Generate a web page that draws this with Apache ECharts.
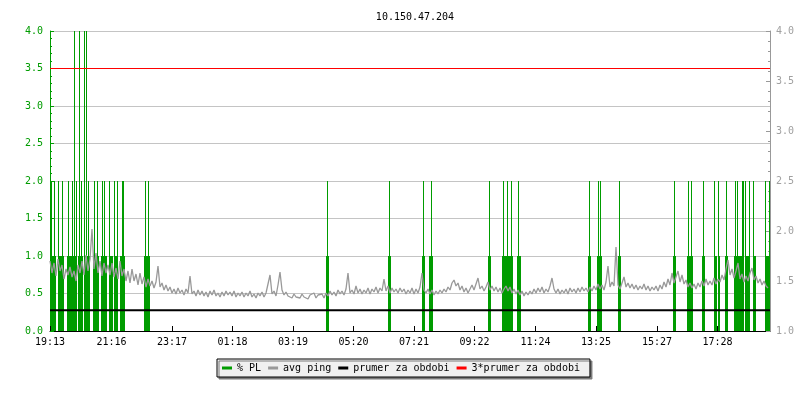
<!DOCTYPE html>
<html>
<head>
<meta charset="utf-8">
<script src="https://cdn.jsdelivr.net/npm/echarts@6/dist/echarts.min.js"></script>
<style>
html,body{margin:0;padding:0;background:#fff;}
#chart{width:800px;height:400px;}
</style>
</head>
<body>
<div id="chart"></div>
<script>
// ---- DATA ----
const chartTitle = '10.150.47.204';
const timeLabels = ['19:13','21:16','23:17','01:18','03:19','05:20','07:21','09:22','11:24','13:25','15:27','17:28'];
const startTime = '19:13';
const spanMinutes = 1440;
const leftTicks = [0, 4, 0.5];      // min, max, step (% PL)
const rightTicks = [1, 4, 0.5];     // min, max, step (ping)

// avg ping, one sample every 4 minutes from 19:13
const pingStep = 4;
const pingValues = [
 1.70,1.58,1.68,1.55,1.72,1.60,1.66,1.52,1.62,1.56,1.64,1.54,1.60,1.50,1.66,1.58,1.70,1.56,1.76,1.60,1.72,2.02,1.62,1.78,1.58,1.70,1.55,1.68,1.58,1.66,
 1.56,1.68,1.54,1.63,1.52,1.70,1.55,1.62,1.50,1.60,1.48,1.62,1.50,1.57,1.46,1.58,1.47,1.54,1.44,1.52,1.45,1.50,1.43,1.49,1.65,1.44,1.48,1.41,1.46,1.40,
 1.44,1.38,1.42,1.37,1.43,1.38,1.41,1.36,1.42,1.38,1.55,1.37,1.40,1.35,1.41,1.36,1.40,1.35,1.39,1.34,1.40,1.36,1.41,1.35,1.38,1.34,1.39,1.35,1.40,1.36,
 1.39,1.35,1.40,1.34,1.38,1.35,1.39,1.34,1.38,1.35,1.40,1.34,1.37,1.33,1.38,1.35,1.39,1.34,1.38,1.36,1.56,1.37,1.40,1.35,1.46,1.59,1.41,1.36,1.39,1.35,
 1.37,1.33,1.37,1.34,1.36,1.33,1.37,1.34,1.36,1.32,1.36,1.34,1.38,1.33,1.36,1.34,1.37,1.33,1.38,1.35,1.40,1.36,1.39,1.35,1.41,1.37,1.40,1.36,1.42,1.58,
 1.38,1.41,1.37,1.45,1.38,1.42,1.37,1.41,1.38,1.43,1.37,1.42,1.39,1.44,1.38,1.43,1.40,1.52,1.40,1.45,1.38,1.43,1.39,1.42,1.38,1.43,1.39,1.42,1.37,1.41,
 1.38,1.43,1.37,1.42,1.38,1.44,1.58,1.41,1.38,1.42,1.37,1.41,1.36,1.40,1.37,1.41,1.38,1.42,1.39,1.44,1.41,1.48,1.51,1.45,1.48,1.41,1.45,1.39,1.43,1.38,
 1.42,1.46,1.41,1.47,1.53,1.42,1.45,1.40,1.44,1.49,1.41,1.45,1.40,1.44,1.39,1.43,1.38,1.42,1.45,1.40,1.44,1.38,1.42,1.37,1.41,1.36,1.40,1.35,1.39,1.36,
 1.40,1.37,1.42,1.38,1.43,1.39,1.44,1.38,1.42,1.39,1.45,1.53,1.42,1.38,1.42,1.37,1.41,1.38,1.42,1.37,1.43,1.39,1.42,1.38,1.43,1.39,1.44,1.40,1.43,1.39,
 1.44,1.40,1.45,1.41,1.47,1.42,1.46,1.41,1.49,1.65,1.44,1.49,1.45,1.84,1.46,1.42,1.48,1.54,1.44,1.48,1.43,1.47,1.42,1.46,1.41,1.45,1.42,1.47,1.41,1.45,
 1.40,1.44,1.41,1.45,1.40,1.46,1.42,1.49,1.44,1.52,1.46,1.58,1.48,1.54,1.60,1.49,1.56,1.47,1.51,1.44,1.48,1.43,1.47,1.42,1.48,1.44,1.50,1.45,1.52,1.46,
 1.50,1.46,1.53,1.47,1.52,1.49,1.56,1.51,1.62,1.71,1.56,1.62,1.53,1.60,1.68,1.52,1.57,1.49,1.55,1.50,1.58,1.63,1.51,1.55,1.48,1.52,1.46,1.50,1.45,1.43
];

// % PL samples: [minutes after 19:13, value], 2-minute samples, only non-zero ones
const plSampleMinutes = 2;
const plSamples = [
 [2,2],[4,1],[6,1],[8,2],[10,1],
 [16,2],[18,1],[20,1],[22,1],[24,2],[26,1],
 [34,1],[36,2],[38,1],[40,1],
 [42,1],[44,2],[46,1],[48,4],[50,1],[52,2],
 [56,1],[58,4],[60,1],[62,2],[64,1],
 [68,4],[70,1],[72,4],[74,1],[76,2],[78,1],
 [86,1],[88,2],[90,1],[92,1],[94,2],[96,1],
 [102,1],[104,2],[106,1],[108,2],[110,1],[112,1],
 [118,2],[120,1],[122,1],[124,1],
 [128,2],[130,1],[132,1],[134,2],
 [140,1],[142,1],[144,2],[146,2],[148,1],
 [188,1],[190,2],[192,1],[194,1],[196,2],[198,1],
 [552,1],[554,2],[556,1],
 [676,1],[678,2],[680,1],
 [744,1],[746,2],[748,1],
 [758,1],[760,1],[762,2],[764,1],
 [876,1],[878,2],[880,1],
 [904,1],[906,2],[908,1],[910,1],[912,1],[914,2],[916,1],[918,1],[920,1],[922,2],[924,1],
 [934,1],[936,2],[938,1],[940,1],
 [1076,1],[1078,2],[1080,1],
 [1094,1],[1096,2],[1098,1],[1100,2],[1102,1],
 [1136,1],[1138,2],[1140,1],
 [1246,1],[1248,2],[1250,1],
 [1274,1],[1276,2],[1278,1],
 [1280,1],[1282,2],[1284,1],
 [1304,1],[1306,2],[1308,1],
 [1328,2],[1330,1],[1332,1],
 [1336,2],[1338,1],
 [1350,1],[1352,2],[1354,1],
 [1368,1],[1370,2],[1372,1],[1374,2],[1376,1],
 [1378,1],[1380,1],[1382,1],[1384,2],[1386,2],
 [1390,2],[1392,1],
 [1394,1],[1396,1],[1398,2],
 [1406,2],[1408,1],[1410,1],
 [1430,2],[1432,1],[1434,1],[1436,1],[1438,2]
];

const prumer = 1.208;        // prumer za obdobi
const prumer3 = 3.625;       // 3*prumer za obdobi

const seriesNames = ['% PL', 'avg ping', 'prumer za obdobi', '3*prumer za obdobi'];
const seriesColors = ['#009c00', '#999999', '#000000', '#ff0000'];

// ---- BUILD ----
function toMin(s){ const p = s.split(':'); return (+p[0])*60 + (+p[1]); }
const start = toMin(startTime);
const tickMinutes = timeLabels.map(l => ((toMin(l) - start) + 1440) % 1440);
const labelByMinute = {};
tickMinutes.forEach((m, i) => { labelByMinute[m] = timeLabels[i]; });
const pingData = pingValues.map((v, i) => [i * pingStep, v]);

const FONT = 'DejaVu Sans Mono';
const chart = echarts.init(document.getElementById('chart'), null, {renderer: 'canvas'});
chart.setOption({
  animation: false,
  backgroundColor: '#ffffff',
  title: {
    text: chartTitle, left: 410, top: 7, textAlign: 'center',
    textStyle: {fontFamily: FONT, fontSize: 10, fontWeight: 'normal', color: '#000'}
  },
  legend: {
    left: 217, top: 359,
    padding: [4, 10, 4, 5],
    backgroundColor: '#f0f0f0',
    borderColor: '#000', borderWidth: 1,
    shadowColor: '#7a7a7a', shadowBlur: 0, shadowOffsetX: 2, shadowOffsetY: 2,
    itemWidth: 10, itemHeight: 3, itemGap: 7,
    textStyle: {fontFamily: FONT, fontSize: 10, color: '#000'},
    data: seriesNames.map((n, i) => ({name: n, icon: 'rect', itemStyle: {color: seriesColors[i]}}))
  },
  grid: {left: 50, right: 30, top: 31, bottom: 69, containLabel: false},
  xAxis: {
    type: 'value', min: 0, max: spanMinutes,
    axisLine: {show: true, lineStyle: {color: '#000', width: 1}},
    axisTick: {show: true, inside: true, length: 5, customValues: tickMinutes, lineStyle: {color: '#000'}},
    axisLabel: {
      customValues: tickMinutes, margin: 6, color: '#000',
      fontFamily: FONT, fontSize: 10,
      formatter: v => labelByMinute[v] || ''
    },
    splitLine: {show: false}
  },
  yAxis: [{
    type: 'value', position: 'left',
    min: leftTicks[0], max: leftTicks[1], interval: leftTicks[2],
    axisLine: {show: true, lineStyle: {color: '#009c00'}},
    axisTick: {show: true, inside: true, length: 4, lineStyle: {color: '#009c00'}},
    minorTick: {show: true, splitNumber: 5, length: 2, lineStyle: {color: '#009c00'}},
    axisLabel: {color: '#009c00', fontFamily: FONT, fontSize: 10, margin: 7, formatter: v => v.toFixed(1)},
    splitLine: {show: true, lineStyle: {color: '#c4c4c4', width: 1}}
  }, {
    type: 'value', position: 'right',
    min: rightTicks[0], max: rightTicks[1], interval: rightTicks[2],
    axisLine: {show: true, lineStyle: {color: '#999999'}},
    axisTick: {show: true, inside: true, length: 4, lineStyle: {color: '#999999'}},
    minorTick: {show: true, splitNumber: 5, length: 2, lineStyle: {color: '#999999'}},
    axisLabel: {color: '#a0a0a0', fontFamily: FONT, fontSize: 10, margin: 6, formatter: v => v.toFixed(1)},
    splitLine: {show: false}
  }],
  series: [{
    name: seriesNames[0], type: 'custom', xAxisIndex: 0, yAxisIndex: 0, z: 1,
    data: plSamples,
    renderItem: (params, api) => {
      const t = api.value(0), v = api.value(1);
      const p0 = api.coord([t, 0]);
      const p1 = api.coord([t + plSampleMinutes, v]);
      return {type: 'rect',
        shape: {x: p0[0], y: p1[1], width: p1[0] - p0[0], height: p0[1] - p1[1]},
        style: {fill: seriesColors[0]}};
    },
    itemStyle: {color: seriesColors[0]}
  }, {
    name: seriesNames[1], type: 'line', yAxisIndex: 1, z: 2,
    data: pingData, showSymbol: false, symbol: 'none',
    lineStyle: {color: seriesColors[1], width: 1.3},
    itemStyle: {color: seriesColors[1]}
  }, {
    name: seriesNames[2], type: 'line', yAxisIndex: 1, z: 3,
    data: [[0, prumer], [spanMinutes, prumer]], showSymbol: false, symbol: 'none',
    lineStyle: {color: seriesColors[2], width: 2},
    itemStyle: {color: seriesColors[2]}
  }, {
    name: seriesNames[3], type: 'line', yAxisIndex: 1, z: 3,
    data: [[0, prumer3], [spanMinutes, prumer3]], showSymbol: false, symbol: 'none',
    lineStyle: {color: seriesColors[3], width: 1},
    itemStyle: {color: seriesColors[3]}
  }]
});
</script>
</body>
</html>
